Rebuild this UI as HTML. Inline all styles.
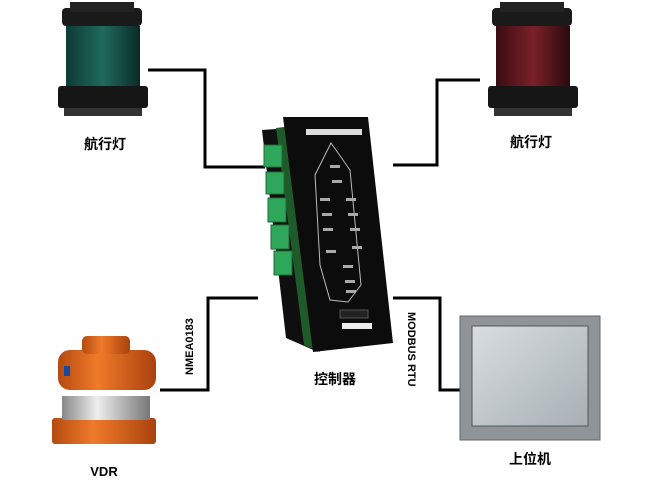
<!DOCTYPE html>
<html><head><meta charset="utf-8"><style>
body{margin:0;background:#fff;width:659px;height:488px;overflow:hidden}
svg{display:block}
text{font-family:"Liberation Sans","Noto Sans CJK SC",sans-serif;font-weight:bold}
</style></head><body>
<svg width="659" height="488" viewBox="0 0 659 488">
<defs>
<linearGradient id="og" x1="0" x2="1"><stop offset="0" stop-color="#b54a10"/><stop offset=".4" stop-color="#f07a2a"/><stop offset="1" stop-color="#a9420e"/></linearGradient>
<linearGradient id="sv" x1="0" x2="1"><stop offset="0" stop-color="#888"/><stop offset=".4" stop-color="#eee"/><stop offset="1" stop-color="#777"/></linearGradient>
<linearGradient id="gl" x1="0" x2="1"><stop offset="0" stop-color="#0d3a35"/><stop offset=".5" stop-color="#1f6a5c"/><stop offset="1" stop-color="#0b2a26"/></linearGradient>
<linearGradient id="rl" x1="0" x2="1"><stop offset="0" stop-color="#3a0d12"/><stop offset=".5" stop-color="#7a2028"/><stop offset="1" stop-color="#2a0a0d"/></linearGradient>
<linearGradient id="scr" x1="0" y1="0" x2="1" y2="1"><stop offset="0" stop-color="#d8dde0"/><stop offset="1" stop-color="#a8b0b5"/></linearGradient>
</defs>
<g fill="none" stroke="#000" stroke-width="3">
<polyline points="148,70 205,70 205,167 265,167"/>
<polyline points="393,165 437,165 437,80 480,80"/>
<polyline points="160,390 208,390 208,298 258,298"/>
<polyline points="393,298 440,298 440,390 462,390"/>
</g>
<g>
<rect x="62" y="8" width="80" height="18" rx="4" fill="#1a1a1a"/>
<rect x="70" y="2" width="64" height="10" fill="#222"/>
<rect x="66" y="26" width="74" height="62" fill="url(#gl)"/>
<rect x="58" y="86" width="90" height="22" rx="3" fill="#161616"/>
<rect x="64" y="108" width="78" height="8" fill="#333"/>
</g>
<g>
<rect x="492" y="8" width="80" height="18" rx="4" fill="#1a1a1a"/>
<rect x="500" y="2" width="64" height="10" fill="#222"/>
<rect x="496" y="26" width="74" height="62" fill="url(#rl)"/>
<rect x="488" y="86" width="90" height="22" rx="3" fill="#161616"/>
<rect x="494" y="108" width="78" height="8" fill="#333"/>
</g>
<polygon points="262,130 290,128 318,352 286,338" fill="#0f0f0f"/>
<polygon points="276,128 292,126 320,352 304,345" fill="#1f5a2a"/>
<g fill="#2fa75a" stroke="#1c6b37" stroke-width="1">
<rect x="264" y="145" width="18" height="22"/>
<rect x="266" y="172" width="18" height="22"/>
<rect x="268" y="198" width="18" height="24"/>
<rect x="271" y="225" width="18" height="24"/>
<rect x="274" y="251" width="18" height="24"/>
</g>
<polygon points="283,117 368,117 393,343 313,352" fill="#0c0c0c"/>
<rect x="306" y="129" width="56" height="6" fill="#ddd"/>
<polygon points="331,143 350,170 361,285 348,302 330,300 320,265 315,175" fill="none" stroke="#bbb" stroke-width="1"/>
<g fill="#aaa">
<rect x="330" y="165" width="10" height="3"/><rect x="332" y="180" width="10" height="3"/>
<rect x="320" y="198" width="10" height="3"/><rect x="346" y="198" width="10" height="3"/>
<rect x="322" y="213" width="10" height="3"/><rect x="348" y="213" width="10" height="3"/>
<rect x="323" y="228" width="10" height="3"/><rect x="350" y="228" width="10" height="3"/>
<rect x="326" y="250" width="10" height="3"/><rect x="352" y="246" width="10" height="3"/>
<rect x="343" y="265" width="10" height="3"/><rect x="345" y="280" width="10" height="3"/>
<rect x="346" y="290" width="10" height="3"/>
</g>
<rect x="340" y="310" width="28" height="8" fill="#222" stroke="#555"/>
<rect x="342" y="323" width="30" height="6" fill="#eee"/>
<!-- VDR -->
<rect x="52" y="418" width="104" height="26" rx="3" fill="url(#og)"/>
<rect x="62" y="396" width="88" height="24" fill="url(#sv)"/>
<rect x="58" y="350" width="98" height="40" rx="12" fill="url(#og)"/>
<rect x="82" y="336" width="48" height="18" rx="5" fill="url(#og)"/>
<rect x="64" y="366" width="6" height="10" fill="#1a4a9a"/>
<rect x="460" y="316" width="140" height="124" fill="#8e9498" stroke="#666"/>
<rect x="472" y="326" width="116" height="100" fill="url(#scr)" stroke="#555"/>
<text x="105" y="149" font-size="14" text-anchor="middle">航行灯</text>
<text x="531" y="147" font-size="14" text-anchor="middle">航行灯</text>
<text x="335" y="384" font-size="14" text-anchor="middle">控制器</text>
<text x="104" y="476" font-size="13" text-anchor="middle">VDR</text>
<text x="530" y="464" font-size="14" text-anchor="middle">上位机</text>
<text transform="translate(193,375) rotate(-90)" font-size="11">NMEA0183</text>
<text transform="translate(408,312) rotate(90)" font-size="11">MODBUS RTU</text>
</svg>
</body></html>
